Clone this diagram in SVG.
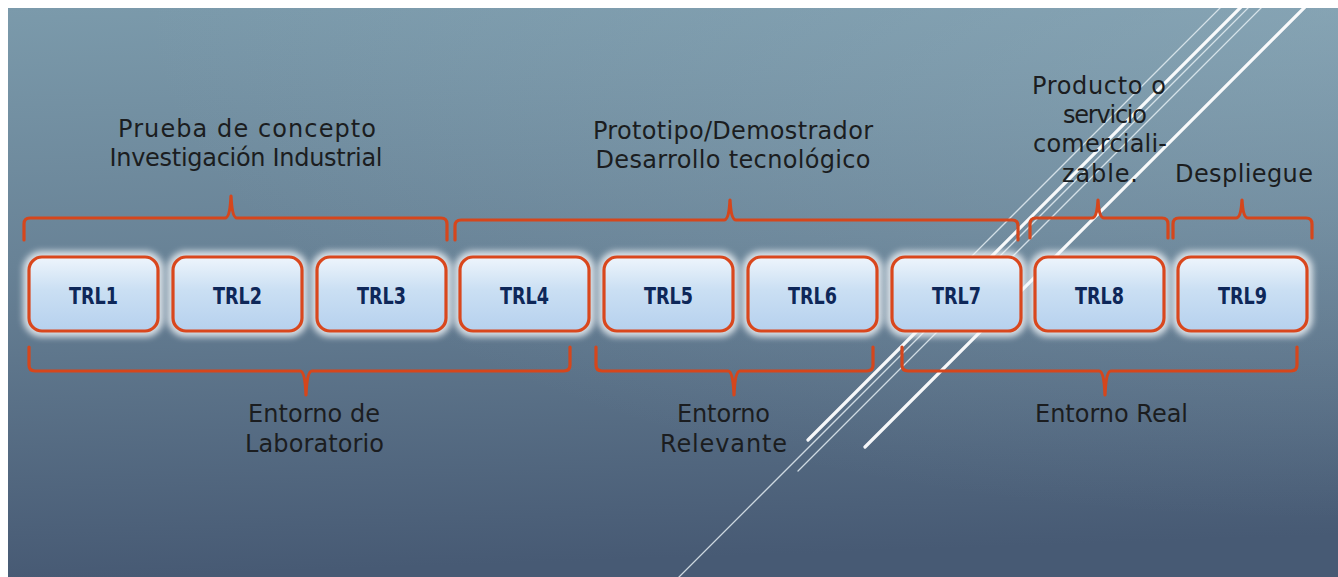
<svg xmlns="http://www.w3.org/2000/svg" width="1338" height="577" viewBox="0 0 1338 577">
  <defs>
    <linearGradient id="bg" x1="0" y1="0" x2="0.08" y2="1">
      <stop offset="0" stop-color="#7b9aab"/>
      <stop offset="0.45" stop-color="#688296"/>
      <stop offset="1" stop-color="#475a74"/>
    </linearGradient>
    <radialGradient id="sheen" cx="1" cy="0" r="0.9">
      <stop offset="0" stop-color="#9ab8c6" stop-opacity="0.4"/>
      <stop offset="1" stop-color="#9ab8c6" stop-opacity="0"/>
    </radialGradient>
    <linearGradient id="boxFill" x1="0" y1="0" x2="0" y2="1">
      <stop offset="0" stop-color="#eef5fc"/>
      <stop offset="0.45" stop-color="#cadff3"/>
      <stop offset="1" stop-color="#b6d1ee"/>
    </linearGradient>
    <filter id="halo" x="-20%" y="-40%" width="140%" height="180%">
      <feGaussianBlur stdDeviation="3.2"/>
    </filter>
    <filter id="soft" x="-5%" y="-5%" width="110%" height="110%">
      <feGaussianBlur stdDeviation="0.5"/>
    </filter>
    <style>
      .panel-edge { fill: #ffffff; }
      .deco-thick { stroke: #ffffff; stroke-width: 3.2; stroke-linecap: round; opacity: 0.95; }
      .deco-thin { stroke: #e4eef3; stroke-width: 1.3; stroke-linecap: round; opacity: 0.85; }
      .glow { fill: none; stroke: #f4f8fb; stroke-width: 12; opacity: 0.8; }
      .box { fill: url(#boxFill); stroke: #d9471d; stroke-width: 3.2; }
      .trl { font-family: "DejaVu Sans", "Liberation Sans", sans-serif; font-weight: bold; font-size: 23.5px; fill: #0e2759; text-anchor: middle; }
      .brace { fill: none; stroke: #d5461c; stroke-width: 3.2; stroke-linejoin: round; stroke-linecap: round; }
      .lbl { font-family: "DejaVu Sans", "Liberation Sans", sans-serif; font-size: 24px; fill: #1b1d20; text-anchor: middle; }
    </style>
  </defs>

  <!-- page background with white margin on top and left -->
  <rect x="0" y="0" width="1338" height="577" class="panel-edge"/>
  <rect x="8" y="8" width="1330" height="569" fill="url(#bg)"/>
  <rect x="8" y="8" width="1330" height="569" fill="url(#sheen)"/>

  <!-- decorative diagonal strokes -->
  <g id="decoration" filter="url(#soft)">
    <svg x="8" y="8" width="1330" height="569" viewBox="8 8 1330 569" overflow="hidden">
      <line class="deco-thin" x1="1228" y1="0" x2="935" y2="293"/>
      <line class="deco-thick" x1="1248" y1="0" x2="808" y2="440"/>
      <line class="deco-thin" x1="1256" y1="0" x2="677" y2="579"/>
      <line class="deco-thin" x1="1269" y1="0" x2="798" y2="471"/>
      <line class="deco-thick" x1="1312" y1="0" x2="865" y2="447"/>
    </svg>
  </g>

  <!-- brackets grouping the levels -->
  <g id="connectors">
    <path class="brace" d="M24,240 L24,224 Q24,218 30,218 L225,218 Q230,218 231,196 Q232,218 237,218 L441,218 Q447,218 447,224 L447,240"/>
    <path class="brace" d="M455,240 L455,226 Q455,220 461,220 L724,220 Q729,220 730,200 Q731,220 736,220 L1012,220 Q1018,220 1018,226 L1018,240"/>
    <path class="brace" d="M1030,238 L1030,224 Q1030,218 1036,218 L1092,218 Q1097,218 1098,200 Q1099,218 1104,218 L1162,218 Q1168,218 1168,224 L1168,238"/>
    <path class="brace" d="M1173,238 L1173,224 Q1173,218 1179,218 L1236,218 Q1241,218 1242,200 Q1243,218 1248,218 L1306,218 Q1312,218 1312,224 L1312,238"/>

    <path class="brace" d="M29,347 L29,365 Q29,371 35,371 L300,371 Q305,371 306,395 Q307,371 312,371 L564,371 Q570,371 570,365 L570,347"/>
    <path class="brace" d="M596,347 L596,365 Q596,371 602,371 L728,371 Q733,371 734,395 Q735,371 740,371 L867,371 Q873,371 873,365 L873,347"/>
    <path class="brace" d="M902,347 L902,365 Q902,371 908,371 L1099,371 Q1104,371 1105,395 Q1106,371 1111,371 L1291,371 Q1297,371 1297,365 L1297,347"/>
  </g>

  <!-- readiness level boxes -->
  <g id="trl1">
    <rect class="glow" x="29" y="257" width="129" height="74" rx="13" filter="url(#halo)"/>
    <rect class="box" x="29" y="257" width="129" height="74" rx="13"/>
    <text class="trl" x="93.5" y="303.5" textLength="49" lengthAdjust="spacingAndGlyphs">TRL1</text>
  </g>
  <g id="trl2">
    <rect class="glow" x="173" y="257" width="129" height="74" rx="13" filter="url(#halo)"/>
    <rect class="box" x="173" y="257" width="129" height="74" rx="13"/>
    <text class="trl" x="237.5" y="303.5" textLength="49" lengthAdjust="spacingAndGlyphs">TRL2</text>
  </g>
  <g id="trl3">
    <rect class="glow" x="317" y="257" width="129" height="74" rx="13" filter="url(#halo)"/>
    <rect class="box" x="317" y="257" width="129" height="74" rx="13"/>
    <text class="trl" x="381.5" y="303.5" textLength="49" lengthAdjust="spacingAndGlyphs">TRL3</text>
  </g>
  <g id="trl4">
    <rect class="glow" x="460" y="257" width="129" height="74" rx="13" filter="url(#halo)"/>
    <rect class="box" x="460" y="257" width="129" height="74" rx="13"/>
    <text class="trl" x="524.5" y="303.5" textLength="49" lengthAdjust="spacingAndGlyphs">TRL4</text>
  </g>
  <g id="trl5">
    <rect class="glow" x="604" y="257" width="129" height="74" rx="13" filter="url(#halo)"/>
    <rect class="box" x="604" y="257" width="129" height="74" rx="13"/>
    <text class="trl" x="668.5" y="303.5" textLength="49" lengthAdjust="spacingAndGlyphs">TRL5</text>
  </g>
  <g id="trl6">
    <rect class="glow" x="748" y="257" width="129" height="74" rx="13" filter="url(#halo)"/>
    <rect class="box" x="748" y="257" width="129" height="74" rx="13"/>
    <text class="trl" x="812.5" y="303.5" textLength="49" lengthAdjust="spacingAndGlyphs">TRL6</text>
  </g>
  <g id="trl7">
    <rect class="glow" x="892" y="257" width="129" height="74" rx="13" filter="url(#halo)"/>
    <rect class="box" x="892" y="257" width="129" height="74" rx="13"/>
    <text class="trl" x="956.5" y="303.5" textLength="49" lengthAdjust="spacingAndGlyphs">TRL7</text>
  </g>
  <g id="trl8">
    <rect class="glow" x="1035" y="257" width="129" height="74" rx="13" filter="url(#halo)"/>
    <rect class="box" x="1035" y="257" width="129" height="74" rx="13"/>
    <text class="trl" x="1099.5" y="303.5" textLength="49" lengthAdjust="spacingAndGlyphs">TRL8</text>
  </g>
  <g id="trl9">
    <rect class="glow" x="1178" y="257" width="129" height="74" rx="13" filter="url(#halo)"/>
    <rect class="box" x="1178" y="257" width="129" height="74" rx="13"/>
    <text class="trl" x="1242.5" y="303.5" textLength="49" lengthAdjust="spacingAndGlyphs">TRL9</text>
  </g>

  <!-- stage captions above -->
  <g id="label-concepto">
    <text class="lbl" x="247" y="137" textLength="258">Prueba de concepto</text>
    <text class="lbl" x="246" y="166" textLength="273">Investigación Industrial</text>
  </g>
  <g id="label-prototipo">
    <text class="lbl" x="733" y="139" textLength="280">Prototipo/Demostrador</text>
    <text class="lbl" x="733" y="168" textLength="275">Desarrollo tecnológico</text>
  </g>
  <g id="label-producto">
    <text class="lbl" x="1099" y="94" textLength="134">Producto o</text>
    <text class="lbl" x="1105" y="123" textLength="84">servicio</text>
    <text class="lbl" x="1100" y="152" textLength="134">comerciali-</text>
    <text class="lbl" x="1100" y="182" textLength="76">zable.</text>
  </g>
  <g id="label-despliegue">
    <text class="lbl" x="1244" y="182" textLength="138">Despliegue</text>
  </g>

  <!-- environment captions below -->
  <g id="label-laboratorio">
    <text class="lbl" x="314" y="422" textLength="132">Entorno de</text>
    <text class="lbl" x="314.5" y="452" textLength="139">Laboratorio</text>
  </g>
  <g id="label-relevante">
    <text class="lbl" x="723.5" y="422" textLength="93">Entorno</text>
    <text class="lbl" x="723.5" y="452" textLength="127">Relevante</text>
  </g>
  <g id="label-real">
    <text class="lbl" x="1111.5" y="422" textLength="153">Entorno Real</text>
  </g>
</svg>
